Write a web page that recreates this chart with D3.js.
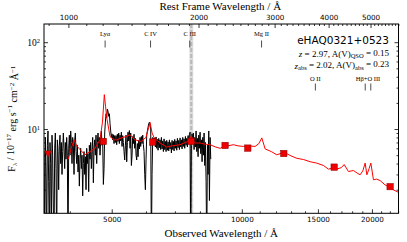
<!DOCTYPE html>
<html>
<head>
<meta charset="utf-8">
<script src="https://cdn.jsdelivr.net/npm/d3@7"></script>
<style>
  body { margin: 0; background: #fff; }
  svg { display: block; }
</style>
</head>
<body>
<svg id="chart" width="407" height="242"></svg>
<script>
// redshift of the quasar
var zQso = 2.97;

// observed spectrum: log-lambda pixel grid (start, dex per pixel) and flux per pixel
var specStart = 3486, specLogStep = 1 / 648;
var specFlux = [
  5.5, 0.4, 8.0, 3.0, 0.4, 6.5, 9.5, 2.5, 0.4, 7.0, 4.0, 0.5, 8.5, 5.0, 1.2, 0.4, 6.0, 9.0, 3.5, 0.4,
  7.5, 5.5, 2.0, 6.5, 8.5, 4.0, 7.0, 3.0, 5.5, 9.0, 6.0, 3.5, 7.0, 4.5, 8.0, 5.0, 0.4,
  6.0, 8.5, 5.0, 9.5, 7.0, 4.0, 8.0, 6.5, 3.0, 7.5, 9.0, 5.5, 4.0, 6.5, 3.2, 5.0, 2.2, 4.5, 6.0, 3.5,
  5.0, 1.7, 4.0, 5.5, 3.0, 4.8, 2.0, 6.0, 4.0, 5.2, 1.9, 6.5, 4.5, 7.0, 3.5, 5.5, 8.0, 2.4, 6.0, 7.5,
  5.0, 8.5, 4.0, 7.0, 9.0, 6.0, 8.0, 5.0, 7.5, 9.5, 6.5,
  7.0, 2.3, 3.5, 9.0, 12.0, 15.0, 13.5, 17.0, 16.0,
  14.0, 15.0, 11.5, 9.5, 8.0, 8.8, 7.5, 8.6, 6.8, 8.4, 7.0, 8.4, 6.6, 8.7, 7.2, 9.0, 6.8, 8.5, 7.3, 9.2,
  6.3, 8.4, 7.0, 5.5, 4.4, 6.5, 8.5, 4.2, 7.0, 9.2, 7.3, 9.6, 6.0, 9.0, 3.8, 5.0, 8.2, 6.8, 8.7, 6.0,
  7.8, 5.0, 4.4, 6.8, 4.8, 7.4, 5.9, 8.0, 6.3, 8.2, 6.8, 8.5, 6.6, 5.5, 3.0, 2.0, 4.5, 8.5, 9.5, 10.5,
  11.5, 12.0, 11.0, 10.0, 0.4, 3.0, 8.0, 7.8, 7.0,
  7.9, 6.2, 8.1, 6.0, 7.6, 5.7, 7.8, 6.1, 7.5, 5.8, 8.0, 5.9, 7.3, 5.5, 7.7, 5.8, 7.2, 5.5, 7.4, 5.7,
  7.1, 5.6, 7.5, 5.9, 7.0, 5.3, 7.4, 5.8, 7.2, 5.6, 7.6, 6.0, 7.3, 5.7, 7.8, 6.1, 7.4, 5.8, 7.9, 6.2,
  7.5, 5.9, 8.0, 6.3, 7.7, 6.0, 8.2, 6.5, 7.8, 6.2, 8.4,
  6.8, 8.7, 9.2, 0.4, 6.5, 8.8, 7.0, 9.0, 5.8, 8.0, 6.2, 9.5, 5.5, 7.8, 4.8, 8.5, 6.0, 9.2, 5.2, 7.5,
  4.2, 8.0, 5.0, 9.0, 3.8, 7.0, 2.5, 0.4, 6.5, 3.0, 9.5, 1.5, 8.0, 4.5
];

// quasar model (red)
var modelWave = [3968, 4030, 4090, 4150, 4223, 4337, 4455, 4575, 4697, 4760, 4807, 4840, 4876, 4955,
  5060, 5135, 5260, 5400, 5512, 5660, 5850, 6000, 6134, 6200, 6270, 6469, 6704, 6900, 7195, 7500,
  7640, 7780, 8006, 8200, 8444, 8700, 8906, 9147, 9561, 9800, 10084, 10400, 10731, 10950, 11124,
  11322, 11700, 12047, 12400, 12707, 13000, 13408, 13900, 14388, 14900, 15449, 15865, 16200, 16590,
  17000, 17248, 17649, 18124, 18500, 18783, 19050, 19291, 19469, 19700, 19885, 20163, 20500, 20893,
  21458, 21900, 22430, 23120];
var modelFlux = [4.5, 6.0, 7.5, 6.4, 5.8, 5.05, 5.5, 6.0, 7.5, 12.0, 24.9, 18.0, 13.0, 8.2,
  7.5, 7.5, 7.9, 8.2, 8.6, 7.5, 7.2, 8.0, 11.9, 9.0, 7.9, 6.9, 6.2, 6.4, 6.6, 7.2,
  8.3, 6.9, 6.9, 6.7, 6.6, 6.2, 6.0, 6.3, 6.6, 6.4, 6.3, 6.4, 6.3, 6.8, 7.9,
  5.9, 5.5, 5.05, 5.3, 5.2, 4.9, 4.6, 4.45, 4.2, 4.05, 3.8, 3.45, 3.55, 3.45,
  3.6, 3.9, 3.24, 3.33, 3.1, 2.97, 3.3, 4.05, 2.97, 3.5, 4.05, 2.6, 2.65, 2.55,
  2.27, 2.15, 1.99, 1.85];

// photometry (squares) and u-band point (triangle)
var photWave = [4782, 6221, 7632, 9147, 10323, 12505, 16355, 22035];
var photFlux = [7.2, 7.08, 7.2, 6.47, 6.03, 5.22, 3.64, 2.17];
var limitWave = [3560];
var limitFlux = [5.3];

// emission line markers (rest frame)
var lineNames = ["Lyα", "C IV", "C III", "Mg II"];
var lineRest = [1216, 1549, 1909, 2798];
var line2Names = ["O II", "Hβ+O III"];
var line2Rest = [[3727], [4861, 5007]];

// telluric band
var bandWave = [7560, 7720];

// ticks
var obsTicks = [5000, 10000, 15000, 20000];
var restTicks = [1000, 2000, 3000, 4000, 5000];
var yTicks = [10, 100];

var svg = d3.select("#chart"),
    margin = {top: 24, right: 8.5, bottom: 28.7, left: 44},
    W = +svg.attr("width"), H = +svg.attr("height"),
    x0 = margin.left, x1 = W - margin.right,
    y0 = margin.top, y1 = H - margin.bottom;

var x = d3.scaleLog().domain([3486, 23040]).range([x0, x1]);
var xTop = d3.scaleLog().domain([3486 / (1 + zQso), 23040 / (1 + zQso)]).range([x0, x1]);
var y = d3.scaleLog().domain([1.07, 162]).range([y1, y0]);

var serif = "'Liberation Serif', 'DejaVu Serif', serif";
var sans = "'DejaVu Sans', sans-serif";

svg.append("defs").append("clipPath").attr("id", "clip")
  .append("rect").attr("x", x0).attr("y", y0).attr("width", x1 - x0).attr("height", y1 - y0);

var plot = svg.append("g").attr("clip-path", "url(#clip)");

// telluric band
plot.append("rect")
  .attr("x", x(bandWave[0])).attr("y", y0)
  .attr("width", x(bandWave[1]) - x(bandWave[0])).attr("height", y1 - y0)
  .attr("fill", "#dcdcdc");
plot.append("line")
  .attr("x1", x(Math.sqrt(bandWave[0] * bandWave[1]))).attr("x2", x(Math.sqrt(bandWave[0] * bandWave[1])))
  .attr("y1", y0).attr("y2", y1)
  .attr("stroke", "#b8b8b8").attr("stroke-width", 2).attr("stroke-dasharray", "4,2");

// observed spectrum
var specLine = d3.line()
  .x(function(d, i) { return x(specStart * Math.pow(10, i * specLogStep)); })
  .y(function(d) { return y(d); });
plot.append("path").datum(specFlux)
  .attr("d", specLine).attr("fill", "none").attr("stroke", "#000").attr("stroke-width", 1);

// model
var modelLine = d3.line()
  .x(function(d, i) { return x(modelWave[i]); })
  .y(function(d) { return y(d); });
plot.append("path").datum(modelFlux)
  .attr("d", modelLine).attr("fill", "none").attr("stroke", "#ff0000").attr("stroke-width", 1);

// photometry
plot.selectAll("rect.phot").data(photFlux).enter().append("rect").attr("class", "phot")
  .attr("x", function(d, i) { return x(photWave[i]) - 3.2; })
  .attr("y", function(d) { return y(d) - 3.2; })
  .attr("width", 6.4).attr("height", 6.4)
  .attr("fill", "#ee0000").attr("stroke", "#880000").attr("stroke-width", 0.5);
plot.selectAll("path.lim").data(limitFlux).enter().append("path").attr("class", "lim")
  .attr("d", d3.symbol(d3.symbolTriangle).size(22))
  .attr("transform", function(d, i) { return "translate(" + x(limitWave[i]) + "," + y(d) + ") rotate(180)"; })
  .attr("fill", "#ee0000").attr("stroke", "#880000").attr("stroke-width", 0.5);

// axes
function styleAxis(g) {
  g.select(".domain").remove();
  g.selectAll(".tick line").attr("stroke", "#000").attr("stroke-width", 0.8);
}
function minorTicks(lo, hi, step) {
  var t = [];
  for (var v = lo; v <= hi; v += step) t.push(v);
  return t;
}
var obsMinor = minorTicks(4000, 23000, 1000).filter(function(v) { return obsTicks.indexOf(v) < 0; });
var restMinor = minorTicks(900, 5800, 100).filter(function(v) { return restTicks.indexOf(v) < 0; });
var yMinor = [2, 3, 4, 5, 6, 7, 8, 9, 20, 30, 40, 50, 60, 70, 80, 90];

var gb = svg.append("g").attr("transform", "translate(0," + y1 + ")")
  .call(d3.axisBottom(x).tickValues(obsTicks).tickFormat(d3.format("d")).tickSize(-4).tickPadding(4));
styleAxis(gb);
gb.selectAll("text").attr("font-family", sans).attr("font-size", 7.2).attr("fill", "#000");
svg.append("g").attr("transform", "translate(0," + y1 + ")")
  .call(d3.axisBottom(x).tickValues(obsMinor).tickFormat("").tickSize(-2)).call(styleAxis);

var gt = svg.append("g").attr("transform", "translate(0," + y0 + ")")
  .call(d3.axisTop(xTop).tickValues(restTicks).tickFormat(d3.format("d")).tickSize(-4).tickPadding(4));
styleAxis(gt);
gt.selectAll("text").attr("font-family", sans).attr("font-size", 7.2).attr("fill", "#000");
svg.append("g").attr("transform", "translate(0," + y0 + ")")
  .call(d3.axisTop(xTop).tickValues(restMinor).tickFormat("").tickSize(-2)).call(styleAxis);

var gl = svg.append("g").attr("transform", "translate(" + x0 + ",0)")
  .call(d3.axisLeft(y).tickValues(yTicks).tickFormat("").tickSize(-4).tickPadding(4));
styleAxis(gl);
gl.selectAll(".tick").append("text")
  .attr("x", -4).attr("dy", "0.35em").attr("text-anchor", "end")
  .attr("font-family", serif).attr("font-size", 9.5).attr("fill", "#000")
  .each(function(d) {
    var t = d3.select(this);
    t.append("tspan").text("10");
    t.append("tspan").attr("dy", "-0.45em").attr("font-size", 6.5).text(Math.round(Math.log10(d)));
  });
svg.append("g").attr("transform", "translate(" + x0 + ",0)")
  .call(d3.axisLeft(y).tickValues(yMinor).tickFormat("").tickSize(-2)).call(styleAxis);
svg.append("g").attr("transform", "translate(" + x1 + ",0)")
  .call(d3.axisRight(y).tickValues(yTicks).tickFormat("").tickSize(-4)).call(styleAxis);
svg.append("g").attr("transform", "translate(" + x1 + ",0)")
  .call(d3.axisRight(y).tickValues(yMinor).tickFormat("").tickSize(-2)).call(styleAxis);

// frame
svg.append("rect").attr("x", x0).attr("y", y0).attr("width", x1 - x0).attr("height", y1 - y0)
  .attr("fill", "none").attr("stroke", "#000").attr("stroke-width", 1);

// axis titles
svg.append("text").attr("x", (x0 + x1) / 2).attr("y", 237)
  .attr("text-anchor", "middle").attr("font-family", serif).attr("font-size", 11)
  .text("Observed Wavelength / Å");
svg.append("text").attr("x", (x0 + x1) / 2 - 1).attr("y", 10)
  .attr("text-anchor", "middle").attr("font-family", serif).attr("font-size", 11)
  .text("Rest Frame Wavelength / Å");
var yl = svg.append("text")
  .attr("transform", "translate(15," + ((y0 + y1) / 2) + ") rotate(-90)")
  .attr("text-anchor", "middle").attr("font-family", serif).attr("font-size", 10);
yl.append("tspan").text("F");
yl.append("tspan").attr("font-size", 7).attr("dy", "0.25em").text("λ");
yl.append("tspan").attr("dy", "-0.25em").text(" / 10");
yl.append("tspan").attr("font-size", 7).attr("dy", "-0.45em").text("−17");
yl.append("tspan").attr("dy", "0.45em").text(" erg s");
yl.append("tspan").attr("font-size", 7).attr("dy", "-0.45em").text("−1");
yl.append("tspan").attr("dy", "0.45em").text(" cm");
yl.append("tspan").attr("font-size", 7).attr("dy", "-0.45em").text("−2");
yl.append("tspan").attr("dy", "0.45em").text(" Å");
yl.append("tspan").attr("font-size", 7).attr("dy", "-0.45em").text("−1");

// emission line labels
var lab = svg.append("g").attr("font-family", serif).attr("font-size", 6.5).attr("text-anchor", "middle");
lineNames.forEach(function(n, i) {
  var px = x(lineRest[i] * (1 + zQso));
  lab.append("text").attr("x", px).attr("y", 35.5).text(n);
  lab.append("line").attr("x1", px).attr("x2", px).attr("y1", 40.5).attr("y2", 47.5)
    .attr("stroke", "#222").attr("stroke-width", 0.8);
});
line2Names.forEach(function(n, i) {
  var ws = line2Rest[i].map(function(w) { return x(w * (1 + zQso)); });
  lab.append("text").attr("x", d3.mean(ws)).attr("y", 81).text(n);
  ws.forEach(function(px) {
    lab.append("line").attr("x1", px).attr("x2", px).attr("y1", 83.5).attr("y2", 90.5)
      .attr("stroke", "#222").attr("stroke-width", 0.8);
  });
});

// object info
svg.append("text").attr("x", 389).attr("y", 44).attr("text-anchor", "end")
  .attr("font-family", sans).attr("font-size", 10.5).text("eHAQ0321+0523");
var t1 = svg.append("text").attr("x", 389).attr("y", 56.5).attr("text-anchor", "end")
  .attr("font-family", serif).attr("font-size", 9);
t1.append("tspan").attr("font-style", "italic").text("z");
t1.append("tspan").text(" = 2.97, A(V)");
t1.append("tspan").attr("font-size", 6.5).attr("dy", "0.3em").text("QSO");
t1.append("tspan").attr("dy", "-0.3em").text(" = 0.15");
var t2 = svg.append("text").attr("x", 389).attr("y", 68.5).attr("text-anchor", "end")
  .attr("font-family", serif).attr("font-size", 9);
t2.append("tspan").attr("font-style", "italic").text("z");
t2.append("tspan").attr("font-size", 6.5).attr("dy", "0.3em").text("abs");
t2.append("tspan").attr("dy", "-0.3em").text(" = 2.02, A(V)");
t2.append("tspan").attr("font-size", 6.5).attr("dy", "0.3em").text("abs");
t2.append("tspan").attr("dy", "-0.3em").text(" = 0.23");
</script>
</body>
</html>
